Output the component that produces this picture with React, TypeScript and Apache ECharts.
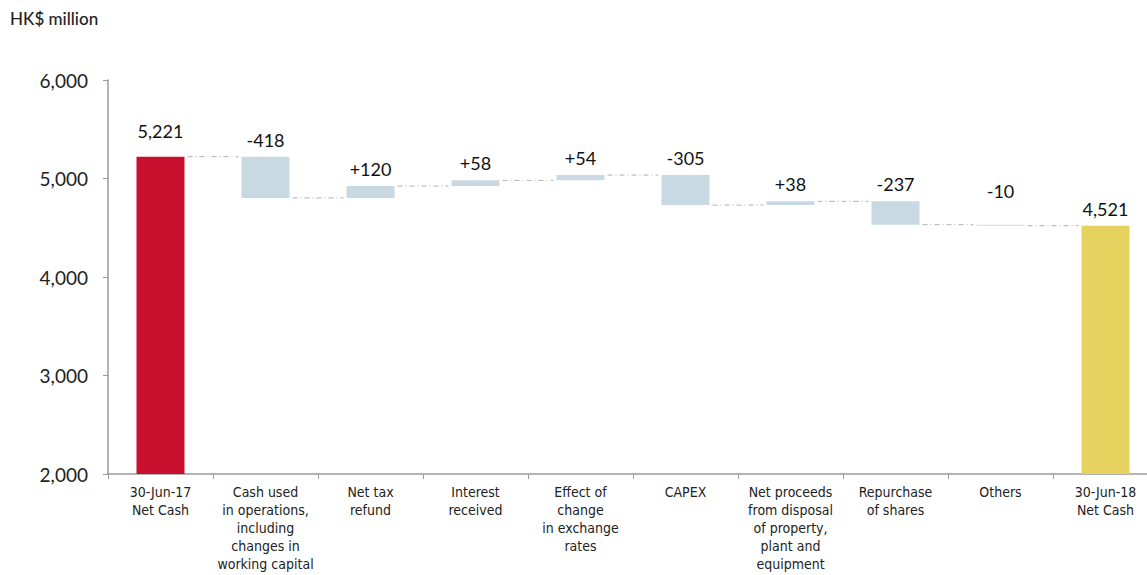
import React, { useEffect, useRef } from "react";
import * as echarts from "echarts";

const categories = [
  "30-Jun-17\nNet Cash",
  "Cash used\nin operations,\nincluding\nchanges in\nworking capital",
  "Net tax\nrefund",
  "Interest\nreceived",
  "Effect of\nchange\nin exchange\nrates",
  "CAPEX",
  "Net proceeds\nfrom disposal\nof property,\nplant and\nequipment",
  "Repurchase\nof shares",
  "Others",
  "30-Jun-18\nNet Cash",
];
const openingTotal = 5221;
const deltas = [-418, 120, 58, 54, -305, 38, -237, -10];
const closingTotal = 4521;
const yTicks = { min: 2000, max: 6000, interval: 1000 };

const RED = "#C8102E";
const BLUE = "#C9D9E3";
const YELLOW = "#E6D35F";

export default function App() {
  const ref = useRef<HTMLDivElement>(null);
  useEffect(() => {
    if (!ref.current) return;
    const chart = echarts.init(ref.current, undefined, { renderer: "svg" });

    const base: number[] = [0];
    const visible: any[] = [];
    const levels: number[] = [openingTotal];
    const labelTexts: string[] = [openingTotal.toLocaleString("en-US")];
    let run = openingTotal;
    deltas.forEach((d) => {
      const next = run + d;
      base.push(Math.min(run, next));
      levels.push(next);
      labelTexts.push((d > 0 ? "+" : "") + d);
      run = next;
    });
    base.push(0);
    labelTexts.push(closingTotal.toLocaleString("en-US"));

    const distances = [17, 8, 8, 8, 8, 8, 8, 8, 25, 8];
    const allVals = [openingTotal, ...deltas.map((d) => Math.abs(d)), closingTotal];
    allVals.forEach((v, i) => {
      const color = i === 0 ? RED : i === allVals.length - 1 ? YELLOW : BLUE;
      visible.push({
        value: v,
        itemStyle: { color },
        label: { distance: distances[i] },
      });
    });

    const connectors = levels.map((lv, i) => [i, lv]);
    const halfBar = 24;

    const numFont = "Lato, 'Open Sans', sans-serif";
    const catFont = "'Liberation Sans Narrow', 'DejaVu Sans Condensed', Lato, sans-serif";

    chart.setOption({
      animation: false,
      backgroundColor: "#ffffff",
      graphic: [
        {
          type: "text",
          left: 10,
          top: 10,
          style: { text: "HK$ million", fontSize: 17, fontWeight: 500, fontFamily: numFont, fill: "#222" },
        },
      ],
      grid: {
        left: 108,
        top: 80,
        width: 1050,
        height: 394,
        containLabel: false,
        outerBoundsMode: "none",
      },
      xAxis: {
        type: "category",
        data: categories,
        axisLine: { lineStyle: { color: "#9a9a9a", width: 1.5 } },
        axisTick: { show: true, length: 5, lineStyle: { color: "#9a9a9a" } },
        axisLabel: {
          interval: 0,
          margin: 9,
          fontSize: 14,
          lineHeight: 18,
          fontFamily: catFont,
          color: "#222",
          fontWeight: 500,
        },
      },
      yAxis: {
        type: "value",
        min: yTicks.min,
        max: yTicks.max,
        interval: yTicks.interval,
        axisLine: { show: true, lineStyle: { color: "#9a9a9a", width: 1.5 } },
        axisTick: { show: true, length: 5, lineStyle: { color: "#9a9a9a" } },
        splitLine: { show: false },
        axisLabel: {
          margin: 20,
          fontSize: 19,
          fontFamily: numFont,
          color: "#222",
          formatter: (v: number) => v.toLocaleString("en-US"),
        },
      },
      series: [
        {
          type: "bar",
          stack: "wf",
          barWidth: 48,
          itemStyle: { color: "transparent" },
          emphasis: { disabled: true },
          data: base,
        },
        {
          type: "bar",
          stack: "wf",
          barWidth: 48,
          data: visible,
          label: {
            show: true,
            position: "top",
            fontSize: 18,
            fontFamily: numFont,
            color: "#111",
            formatter: (p: any) => labelTexts[p.dataIndex],
          },
        },
        {
          type: "custom",
          data: connectors,
          renderItem: (params: any, api: any) => {
            const i = api.value(0);
            const lv = api.value(1);
            if (i >= categories.length - 1) return null;
            const p1 = api.coord([i, lv]);
            const p2 = api.coord([i + 1, lv]);
            return {
              type: "line",
              shape: { x1: p1[0] + halfBar + 3, y1: p1[1], x2: p2[0] - halfBar - 3, y2: p2[1] },
              style: { stroke: "#b0b0b0", lineWidth: 1, lineDash: [5, 3, 1, 3] },
            };
          },
          z: 1,
        },
      ],
    });
    return () => chart.dispose();
  }, []);
  return (
    <div
      ref={ref}
      style={{ position: "fixed", left: 0, top: 0, width: 1147, height: 575 }}
    />
  );
}
